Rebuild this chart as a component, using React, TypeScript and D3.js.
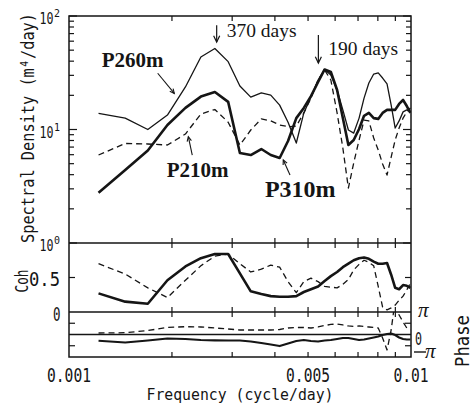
import React from 'react';
import * as d3 from 'd3';

// frequencies (cycle/day)
const freq = [0.00122, 0.00146, 0.0017, 0.00194, 0.00219, 0.00243, 0.00267, 0.00292, 0.00316, 0.0034,
  0.00365, 0.00389, 0.00413, 0.00437, 0.00462, 0.00486, 0.0051, 0.00535, 0.00559, 0.00583,
  0.00608, 0.00632, 0.00656, 0.0068, 0.00705, 0.00729, 0.00753, 0.00778, 0.00802, 0.00826,
  0.00851, 0.00875, 0.00899, 0.00923, 0.00948, 0.00972, 0.00996];

// spectral density (m^4/day)
const specP260 = [13.9, 12.6, 10.0, 13.4, 23.7, 43.5, 51.7, 39.6, 24.2, 19.3,
  21.0, 20.1, 16.4, 11.6, 7.6, 14.0, 19.3, 27.3, 33.8, 30.2,
  22.3, 14.9, 9.9, 9.3, 12.6, 18.9, 25.7, 30.8, 31.5, 28.4,
  25.2, 16.4, 10.3, 11.9, 14.3, 14.9, 14.3];
const specP310 = [2.77, 4.4, 6.53, 10.96, 15.5, 19.5, 21.4, 17.5, 6.2, 5.96,
  6.73, 5.96, 5.61, 7.92, 12.6, 15.5, 19.7, 26.2, 33.8, 32.1,
  22.3, 12.6, 7.3, 8.08, 10.1, 13.2, 14.0, 12.6, 12.4, 14.0,
  14.9, 14.9, 14.9, 16.8, 18.2, 16.1, 14.0];
const specP210 = [5.96, 7.53, 7.45, 7.3, 9.12, 13.7, 15.0, 11.6, 7.3, 9.9,
  12.4, 11.9, 10.96, 10.6, 10.7, 14.0, 18.9, 27.3, 33.4, 27.3,
  14.0, 6.87, 3.05, 5.07, 8.08, 12.1, 11.9, 8.41, 6.6, 4.97,
  3.97, 5.72, 8.08, 10.3, 12.6, 14.3, 15.5];

// coherence
const cohThick = [0.27, 0.15, 0.12, 0.46, 0.66, 0.78, 0.84, 0.84, 0.56, 0.30,
  0.26, 0.23, 0.22, 0.22, 0.23, 0.29, 0.33, 0.37, 0.45, 0.52,
  0.58, 0.65, 0.70, 0.75, 0.78, 0.79, 0.77, 0.73, 0.70, 0.70,
  0.71, 0.54, 0.35, 0.33, 0.39, 0.38, 0.35];
const cohDashed = [0.70, 0.55, 0.35, 0.21, 0.46, 0.67, 0.81, 0.84, 0.70, 0.58,
  0.62, 0.68, 0.65, 0.44, 0.28, 0.44, 0.49, 0.44, 0.37, 0.36,
  0.35, 0.40, 0.47, 0.61, 0.69, 0.75, 0.72, 0.67, 0.37, 0.07,
  0.03, 0.06, 0.10, 0.17, 0.23, 0.32, 0.42];

// phase (rad)
const phaseThick = [-0.87, -1.12, -0.84, -0.56, -0.63, -0.77, -0.81, -0.84, -0.84, -0.98,
  -1.19, -1.4, -1.61, -1.26, -0.91, -0.77, -0.91, -0.98, -0.84, -0.77,
  -0.63, -0.49, -0.49, -0.63, -0.77, -0.7, -0.56, -0.42, -0.28, -0.07,
  0.07, 0.14, -0.07, -0.42, -0.63, -0.7, -0.7];
const phaseDashed = [0.21, 0.25, 0.56, 0.98, 1.09, 1.05, 0.91, 0.77, 0.63, 0.63,
  0.63, 0.63, 0.7, 0.91, 0.98, 0.98, 0.91, 1.05, 1.26, 1.4,
  1.47, 1.33, 1.19, 1.12, 1.19, 1.12, 1.05, 0.98, 0.91, -0.49,
  -2.16, 0.63, 4.82, 2.72, 1.75, 0.91, 0.63];

const xMinorTicks = [0.002, 0.003, 0.004, 0.005, 0.006, 0.007, 0.008, 0.009];
const xTickValues = [0.001, 0.005, 0.01];
const xTickLabels = ['0.001', '0.005', '0.01'];
const specTickValues = [100, 10, 1];
const specTickExp = ['2', '1', '0'];

const seriesNames = ['P260m', 'P210m', 'P310m'];
const periodLabels = ['370 days', '190 days'];

const MONO = '"DejaVu Sans Mono", monospace';
const SERIF = '"Liberation Serif", "Times New Roman", serif';

export default function App() {
  const W = 476, H = 410;
  const L = 69, R = 411, T = 16, B1 = 243, B2 = 312, B3 = 357;
  const x = d3.scaleLog().domain([0.001, 0.01]).range([L, R]);
  const yS = d3.scaleLog().domain([1, 100]).range([B1, T]);
  const yC = d3.scaleLinear().domain([0, 1]).range([B2, B1]);
  const yP = d3.scaleLinear().domain([-Math.PI, Math.PI]).range([B3, B2]);

  const lineS = (vals: number[]) =>
    d3.line<number>().x((_, i) => x(freq[i])).y((d) => yS(d))(vals) || '';
  const lineC = (vals: number[]) =>
    d3.line<number>().x((_, i) => x(freq[i])).y((d) => yC(d))(vals) || '';
  const lineP = (vals: number[]) =>
    d3.line<number>().x((_, i) => x(freq[i])).y((d) => yP(d))(vals) || '';

  const ink = '#151515';
  const specTicks = yS.ticks();

  const tick = (x1: number, y1: number, x2: number, y2: number, k: string) => (
    <line key={k} x1={x1} y1={y1} x2={x2} y2={y2} stroke={ink} strokeWidth={1.2} />
  );

  const ticks: any[] = [];
  // x minor ticks on each horizontal boundary
  xMinorTicks.forEach((f, i) => {
    const xx = x(f);
    ticks.push(tick(xx, T, xx, T + 5, `t0-${i}`));
    ticks.push(tick(xx, B1 - 5, xx, B1 + 5, `t1-${i}`));
    ticks.push(tick(xx, B2 - 5, xx, B2 + 5, `t2-${i}`));
    ticks.push(tick(xx, B3 - 5, xx, B3, `t3-${i}`));
  });
  specTicks.forEach((v, i) => {
    const yy = yS(v);
    const major = Math.abs(Math.log10(v) - Math.round(Math.log10(v))) < 1e-9;
    const len = major ? 8 : 5;
    ticks.push(tick(L, yy, L + len, yy, `sl-${i}`));
    ticks.push(tick(R - len, yy, R, yy, `sr-${i}`));
  });
  ticks.push(tick(L, yC(0.5), L + 6, yC(0.5), 'cl'));
  ticks.push(tick(R - 6, yC(0.5), R, yC(0.5), 'cr'));
  [Math.PI / 2, -Math.PI / 2].forEach((p, i) => {
    ticks.push(tick(L, yP(p), L + 6, yP(p), `pl-${i}`));
    ticks.push(tick(R - 6, yP(p), R, yP(p), `pr-${i}`));
  });

  // annotation anchors in data space
  const labelPos = [
    { f: 0.001246, v: 35.3, size: 21 },
    { f: 0.00193, v: 3.79, size: 21 },
    { f: 0.00374, v: 2.56, size: 24 },
  ];
  const leaders = [
    { f1: 0.001817, v1: 31.3, f2: 0.002032, v2: 20.8 },
    { f1: 0.002293, v1: 5.96, f2: 0.002233, v2: 8.64 },
    { f1: 0.004428, v1: 3.97, f2: 0.004232, v2: 5.39 },
  ];
  const periodArrows = [
    { f: 1 / 370, v1: 83, v2: 59, tf: 0.00289, tv: 65.3 },
    { f: 0.00536, v1: 68, v2: 38.5, tf: 0.005731, tv: 45.3 },
  ];

  const arrowHead = (x1: number, y1: number, x2: number, y2: number, size: number) => {
    const a = Math.atan2(y2 - y1, x2 - x1);
    const s = 0.45;
    const ax = x2 - size * Math.cos(a - s), ay = y2 - size * Math.sin(a - s);
    const bx = x2 - size * Math.cos(a + s), by = y2 - size * Math.sin(a + s);
    return `M${ax},${ay}L${x2},${y2}L${bx},${by}`;
  };

  return (
    <svg width={W} height={H} style={{ position: 'absolute', left: 0, top: 0, background: '#fff' }}
      xmlns="http://www.w3.org/2000/svg">
      <defs>
        <clipPath id="cS"><rect x={L} y={T} width={R - L} height={B1 - T} /></clipPath>
        <clipPath id="cC"><rect x={L} y={B1} width={R - L} height={B2 - B1} /></clipPath>
        <clipPath id="cP"><rect x={L} y={B2} width={R - L} height={B3 - B2} /></clipPath>
      </defs>
      <rect x={0} y={0} width={W} height={H} fill="#fff" />

      {/* spectra */}
      <g clipPath="url(#cS)" fill="none" stroke={ink} strokeLinejoin="round">
        <path d={lineS(specP260)} strokeWidth={1.3} />
        <path d={lineS(specP210)} strokeWidth={1.3} strokeDasharray="6,4" />
        <path d={lineS(specP310)} strokeWidth={2.6} />
      </g>
      {/* coherence */}
      <g clipPath="url(#cC)" fill="none" stroke={ink} strokeLinejoin="round">
        <path d={lineC(cohDashed)} strokeWidth={1.3} strokeDasharray="6,4" />
        <path d={lineC(cohThick)} strokeWidth={2.6} />
      </g>
      {/* phase */}
      <g clipPath="url(#cP)" fill="none" stroke={ink} strokeLinejoin="round">
        <line x1={L} x2={R} y1={yP(0)} y2={yP(0)} strokeWidth={1.3} />
        <path d={lineP(phaseDashed)} strokeWidth={1.3} strokeDasharray="6,4" />
        <path d={lineP(phaseThick)} strokeWidth={2.2} />
      </g>

      {/* frame */}
      <rect x={L} y={T} width={R - L} height={B3 - T} fill="none" stroke={ink} strokeWidth={1.5} />
      <line x1={L} x2={R} y1={B1} y2={B1} stroke={ink} strokeWidth={1.5} />
      <line x1={L} x2={R} y1={B2} y2={B2} stroke={ink} strokeWidth={1.5} />
      {ticks}

      {/* left y tick labels (spectral) */}
      {specTickValues.map((v, i) => (
        <g key={`st-${i}`} fill={ink} fontFamily={MONO}>
          <text x={39.5} y={yS(v) + 8} fontSize={16} textLength={14} lengthAdjust="spacingAndGlyphs">10</text>
          <text x={54} y={yS(v) + 1} fontSize={11} textLength={6} lengthAdjust="spacingAndGlyphs">{specTickExp[i]}</text>
        </g>
      ))}
      {/* coherence labels */}
      <text x={29} y={yC(0.5) + 8.5} fontSize={20} fontFamily={MONO} fill={ink} textLength={31} lengthAdjust="spacingAndGlyphs">0.5</text>
      <text x={53} y={yC(0) + 8.5} fontSize={20} fontFamily={MONO} fill={ink} textLength={7.5} lengthAdjust="spacingAndGlyphs">0</text>
      {/* phase labels (right) */}
      <text x={418} y={yP(Math.PI) + 5} fontSize={21} fontFamily={SERIF} fontStyle="italic" fill={ink}>π</text>
      <text x={415} y={yP(0) + 10.5} fontSize={18} fontFamily={MONO} fill={ink} textLength={7} lengthAdjust="spacingAndGlyphs">0</text>
      <line x1={414} x2={426} y1={yP(-Math.PI) - 5} y2={yP(-Math.PI) - 5} stroke={ink} strokeWidth={1.4} />
      <text x={425} y={yP(-Math.PI) + 1} fontSize={21} fontFamily={SERIF} fontStyle="italic" fill={ink}>π</text>

      {/* x tick labels */}
      {xTickValues.map((f, i) => (
        <text key={`xt-${i}`} x={x(f)} y={382} fontSize={20} fontFamily={MONO} fill={ink} textAnchor="middle"
          textLength={xTickLabels[i].length * 8.8} lengthAdjust="spacingAndGlyphs">{xTickLabels[i]}</text>
      ))}
      <text x={240} y={400} fontSize={16} fontFamily={MONO} fill={ink} textAnchor="middle"
        textLength={187} lengthAdjust="spacingAndGlyphs">Frequency (cycle/day)</text>

      {/* axis titles */}
      <text transform="translate(34,128) rotate(-90)" fontSize={18} fontFamily={MONO} fill={ink} textAnchor="middle"
        textLength={230} lengthAdjust="spacingAndGlyphs">Spectral Density  (m⁴/day)</text>
      <text transform="translate(27.5,281) rotate(-90)" fontSize={17} fontFamily={MONO} fill={ink} textAnchor="middle"
        textLength={23} lengthAdjust="spacingAndGlyphs">Coh</text>
      <text transform="translate(469,341) rotate(-90)" fontSize={19} fontFamily={MONO} fill={ink} textAnchor="middle"
        textLength={52} lengthAdjust="spacingAndGlyphs">Phase</text>

      {/* series labels */}
      {seriesNames.map((s, i) => (
        <text key={`sn-${i}`} x={x(labelPos[i].f)} y={yS(labelPos[i].v)} fontSize={labelPos[i].size}
          fontFamily={SERIF} fontWeight="bold" fill={ink}>{s}</text>
      ))}
      {leaders.map((l, i) => {
        const x1 = x(l.f1), y1 = yS(l.v1), x2 = x(l.f2), y2 = yS(l.v2);
        return (
          <g key={`ld-${i}`} fill="none" stroke={ink} strokeWidth={1.1}>
            <line x1={x1} y1={y1} x2={x2} y2={y2} />
            <path d={arrowHead(x1, y1, x2, y2, 5)} />
          </g>
        );
      })}
      {periodArrows.map((p, i) => {
        const xx = x(p.f), y1 = yS(p.v1), y2 = yS(p.v2);
        return (
          <g key={`pa-${i}`}>
            <line x1={xx} y1={y1} x2={xx} y2={y2} stroke={ink} strokeWidth={1.2} />
            <path d={arrowHead(xx, y1, xx, y2, 7)} fill="none" stroke={ink} strokeWidth={1.2} />
            <text x={x(p.tf)} y={yS(p.tv)} fontSize={19.5} fontFamily={SERIF} fill={ink}>{periodLabels[i]}</text>
          </g>
        );
      })}
    </svg>
  );
}
